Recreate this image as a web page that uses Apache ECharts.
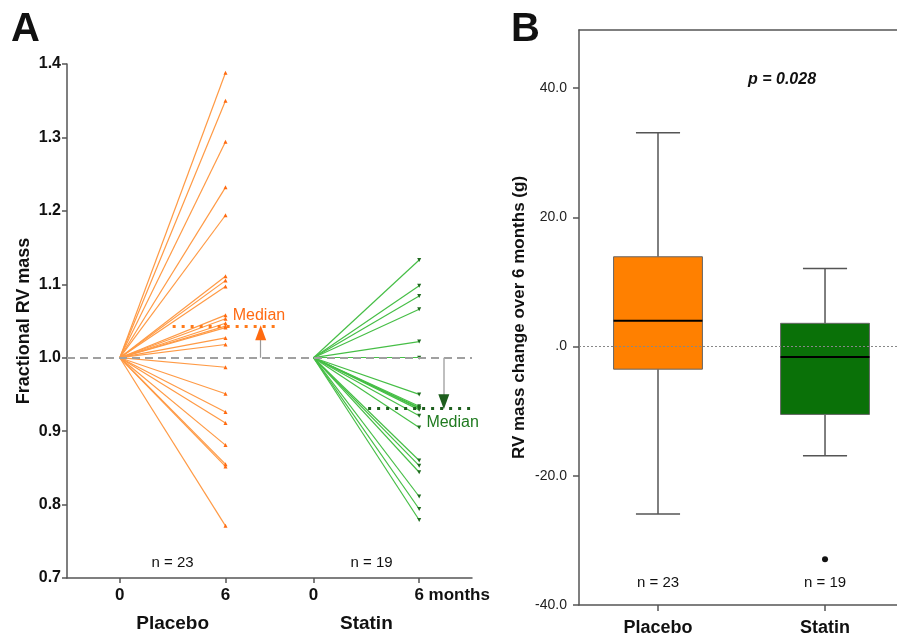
<!DOCTYPE html>
<html>
<head>
<meta charset="utf-8">
<script src="https://cdn.jsdelivr.net/npm/echarts@6/dist/echarts.min.js"></script>
<style>
html, body { margin: 0; padding: 0; background: #fff; }
#main { width: 897px; height: 637px; }
</style>
</head>
<body>
<div id="main"></div>
<script>
// Panel A: fractional RV mass at 6 months (baseline = 1.0)
const placeboEnd = [1.388, 1.350, 1.294, 1.232, 1.194, 1.111, 1.105, 1.097, 1.058, 1.053, 1.047, 1.043,
                    1.041, 1.027, 1.018, 0.987, 0.951, 0.926, 0.911, 0.881, 0.855, 0.852, 0.771];
const statinEnd = [1.133, 1.098, 1.084, 1.066, 1.022, 1.000, 0.950, 0.934, 0.932, 0.931, 0.929, 0.921,
                   0.905, 0.860, 0.853, 0.844, 0.811, 0.794, 0.779];
const medians = [1.043, 0.931];
const timePos = [0, 6, 11, 17];
const timeLabels = ['0', '6', '0', '6 months'];
const groupPos = [3, 14];
const groups = ['Placebo', 'Statin'];
const groupN = ['n = 23', 'n = 19'];

// Panel B: RV mass change over 6 months (g) -> [min, Q1, median, Q3, max]
const boxStats = [
  [-25.9, -3.5, 4.0, 13.9, 33.1],
  [-16.9, -10.5, -1.6, 3.6, 12.1]
];
const outliers = [[2, -32.9]];
const bTicks = [-40, -20, 0, 20, 40];

const FONT = '"Liberation Sans", Arial, Helvetica, sans-serif';
const AXIS = { color: '#555', width: 1.5 };
const orangeLine = '#ff9a45', orangeDot = '#ff6a10';
const greenLine = '#46be46', greenDot = '#1f6a1f';
const boxColors = ['#ff8000', '#0a7108'];

const chart = echarts.init(document.getElementById('main'), null, { renderer: 'canvas' });

function renderBox(params, api) {
  const i = params.dataIndex;
  const x = api.value(0);
  const p = [1, 2, 3, 4, 5].map(d => api.coord([x, api.value(d)]));
  const cx = p[0][0];
  const half = api.size([0.266, 0])[0];
  const cap = api.size([0.132, 0])[0];
  const ws = { stroke: '#555', lineWidth: 1.5 };
  return {
    type: 'group',
    children: [
      { type: 'line', shape: { x1: cx, y1: p[4][1], x2: cx, y2: p[3][1] }, style: ws },
      { type: 'line', shape: { x1: cx, y1: p[1][1], x2: cx, y2: p[0][1] }, style: ws },
      { type: 'line', shape: { x1: cx - cap, y1: p[4][1], x2: cx + cap, y2: p[4][1] }, style: ws },
      { type: 'line', shape: { x1: cx - cap, y1: p[0][1], x2: cx + cap, y2: p[0][1] }, style: ws },
      { type: 'rect', shape: { x: cx - half, y: p[3][1], width: half * 2, height: p[1][1] - p[3][1] },
        style: { fill: boxColors[i], stroke: '#666', lineWidth: 1 } },
      { type: 'line', shape: { x1: cx - half, y1: p[2][1], x2: cx + half, y2: p[2][1] },
        style: { stroke: '#000', lineWidth: 2 } }
    ]
  };
}

const option = {
  animation: false,
  textStyle: { fontFamily: FONT },
  graphic: [
    { type: 'text', left: 11, top: 10, style: { text: 'A', font: 'bold 40px ' + FONT, fill: '#111' } },
    { type: 'text', left: 511, top: 10, style: { text: 'B', font: 'bold 40px ' + FONT, fill: '#111' } },
    { type: 'text', left: 748, top: 72, style: { text: 'p = 0.028', font: 'italic bold 16px ' + FONT,
      fill: '#111', textAlign: 'center', textVerticalAlign: 'middle' } }
  ],
  grid: [
    { left: 67, top: 64, right: 425, bottom: 59 },
    { left: 579, top: 30, right: 0, bottom: 32 }
  ],
  xAxis: [
    {
      gridIndex: 0, type: 'value', min: -3, max: 20,
      axisLine: { onZero: false, lineStyle: AXIS },
      axisTick: { customValues: timePos, length: 5, lineStyle: AXIS },
      splitLine: { show: false },
      axisLabel: {
        customValues: timePos, margin: 9,
        formatter: v => {
          const t = timeLabels[timePos.indexOf(v)];
          return t.length > 1 ? '{m|' + t + '}' : '{n|' + t + '}';
        },
        rich: {
          n: { fontWeight: 'bold', fontSize: 17, color: '#111', fontFamily: FONT },
          m: { fontWeight: 'bold', fontSize: 17, color: '#111', fontFamily: FONT, padding: [0, 0, 0, 66] }
        }
      }
    },
    {
      gridIndex: 0, type: 'value', min: -3, max: 20, position: 'bottom', offset: 0,
      axisLine: { show: false, onZero: false }, axisTick: { show: false }, splitLine: { show: false },
      axisLabel: {
        customValues: groupPos, margin: 36,
        formatter: v => groups[groupPos.indexOf(v)],
        fontWeight: 'bold', fontSize: 19, color: '#111'
      }
    },
    {
      gridIndex: 1, type: 'value', min: 0.527, max: 2.431,
      axisLine: { onZero: false, lineStyle: AXIS },
      axisTick: { customValues: [1, 2], length: 6, lineStyle: AXIS },
      splitLine: { show: false },
      axisLabel: {
        customValues: [1, 2], margin: 14,
        formatter: v => groups[v - 1],
        fontWeight: 'bold', fontSize: 18, color: '#111'
      }
    },
    {
      gridIndex: 1, type: 'value', min: 0.527, max: 2.431, position: 'top',
      axisLine: { onZero: false, lineStyle: AXIS }, axisTick: { show: false },
      axisLabel: { show: false }, splitLine: { show: false }
    }
  ],
  yAxis: [
    {
      gridIndex: 0, type: 'value', min: 0.7, max: 1.4, interval: 0.1,
      name: 'Fractional RV mass', nameLocation: 'middle', nameGap: 34,
      nameTextStyle: { fontWeight: 'bold', fontSize: 18, color: '#111' },
      axisLine: { show: true, onZero: false, lineStyle: AXIS },
      axisTick: { show: true, length: 5, lineStyle: AXIS },
      splitLine: { show: false },
      axisLabel: { formatter: v => v.toFixed(1), fontWeight: 'bold', fontSize: 16, color: '#111', margin: 6 }
    },
    {
      gridIndex: 1, type: 'value', min: -40, max: 49,
      name: 'RV mass change over 6 months (g)', nameLocation: 'middle', nameGap: 51,
      nameTextStyle: { fontWeight: 'bold', fontSize: 17, color: '#111' },
      axisLine: { show: true, onZero: false, lineStyle: AXIS },
      axisTick: { show: true, customValues: bTicks, length: 6, lineStyle: AXIS },
      splitLine: { show: false },
      axisLabel: {
        customValues: bTicks, margin: 12, fontSize: 14, color: '#222',
        formatter: v => (v === 0 ? '.0' : v.toFixed(1))
      }
    }
  ],
  series: [
    {
      type: 'lines', coordinateSystem: 'cartesian2d', xAxisIndex: 0, yAxisIndex: 0,
      data: placeboEnd.map(v => ({ coords: [[timePos[0], 1], [timePos[1], v]] })),
      lineStyle: { color: orangeLine, width: 1.2, opacity: 1 }, z: 2
    },
    {
      type: 'lines', coordinateSystem: 'cartesian2d', xAxisIndex: 0, yAxisIndex: 0,
      data: statinEnd.map(v => ({ coords: [[timePos[2], 1], [timePos[3], v]] })),
      lineStyle: { color: greenLine, width: 1.2, opacity: 1 }, z: 2
    },
    {
      type: 'scatter', xAxisIndex: 0, yAxisIndex: 0, silent: true,
      data: placeboEnd.map(v => [timePos[1], v]),
      symbol: 'triangle', symbolSize: 4, itemStyle: { color: orangeDot, opacity: 1 }, z: 3
    },
    {
      type: 'scatter', xAxisIndex: 0, yAxisIndex: 0, silent: true,
      data: statinEnd.map(v => [timePos[3], v]),
      symbol: 'triangle', symbolRotate: 180, symbolSize: 4, itemStyle: { color: greenDot, opacity: 1 }, z: 3
    },
    {
      // reference lines of panel A
      type: 'scatter', xAxisIndex: 0, yAxisIndex: 0, data: [], z: 4,
      markLine: {
        silent: true, symbol: 'none', label: { show: false }, animation: false,
        data: [
          { yAxis: 1, lineStyle: { color: '#a0a0a0', type: [8, 5], width: 2 } },
          [{ coord: [3, medians[0]], lineStyle: { color: '#ff7a1a', type: [3, 6], width: 3 } }, { coord: [8.9, medians[0]] }],
          [{ coord: [14.1, medians[1]], lineStyle: { color: '#1d5e1d', type: [3, 6], width: 3 } }, { coord: [20, medians[1]] }],
          [{ coord: [8, 1], lineStyle: { color: '#999', type: 'solid', width: 1.2 } }, { coord: [8, 1.03] }],
          [{ coord: [18.4, 1], lineStyle: { color: '#aaa', type: 'solid', width: 1.5 } }, { coord: [18.4, 0.945] }]
        ]
      }
    },
    {
      // arrowheads
      type: 'scatter', xAxisIndex: 0, yAxisIndex: 0, silent: true, z: 5,
      data: [
        { value: [8, 1.034], symbolRotate: 0, itemStyle: { color: '#ff6a10', opacity: 1 } },
        { value: [18.4, 0.940], symbolRotate: 180, itemStyle: { color: '#1d5e1d', opacity: 1 } }
      ],
      symbol: 'triangle', symbolSize: [11, 15]
    },
    {
      // text labels of panel A
      type: 'scatter', xAxisIndex: 0, yAxisIndex: 0, silent: true, z: 5,
      symbolSize: 1, itemStyle: { color: 'transparent', opacity: 1 },
      label: { show: true, position: 'inside', fontSize: 15, color: '#111', formatter: p => p.name },
      data: [
        { name: groupN[0], value: [3, 0.72] },
        { name: groupN[1], value: [14.3, 0.72] },
        { name: 'Median', value: [7.9, 1.058], label: { color: '#ff6a13', fontSize: 16 } },
        { name: 'Median', value: [18.9, 0.912], label: { color: '#1f7a1f', fontSize: 16 } }
      ]
    },
    {
      type: 'custom', xAxisIndex: 2, yAxisIndex: 1, renderItem: renderBox, z: 2,
      encode: { x: 0, y: [1, 2, 3, 4, 5] },
      data: boxStats.map((s, i) => [i + 1].concat(s))
    },
    {
      type: 'scatter', xAxisIndex: 2, yAxisIndex: 1, silent: true, z: 4,
      data: outliers, symbol: 'circle', symbolSize: 6, itemStyle: { color: '#111', opacity: 1 },
      markLine: {
        silent: true, symbol: 'none', label: { show: false },
        data: [{ yAxis: 0, lineStyle: { color: '#888', type: [2, 2], width: 1 } }]
      }
    },
    {
      type: 'scatter', xAxisIndex: 2, yAxisIndex: 1, silent: true, z: 5,
      symbolSize: 1, itemStyle: { color: 'transparent', opacity: 1 },
      label: { show: true, position: 'inside', fontSize: 15, color: '#111', formatter: p => p.name },
      data: groupN.map((n, i) => ({ name: n, value: [i + 1, -36.6] }))
    }
  ]
};

chart.setOption(option);
</script>
</body>
</html>
